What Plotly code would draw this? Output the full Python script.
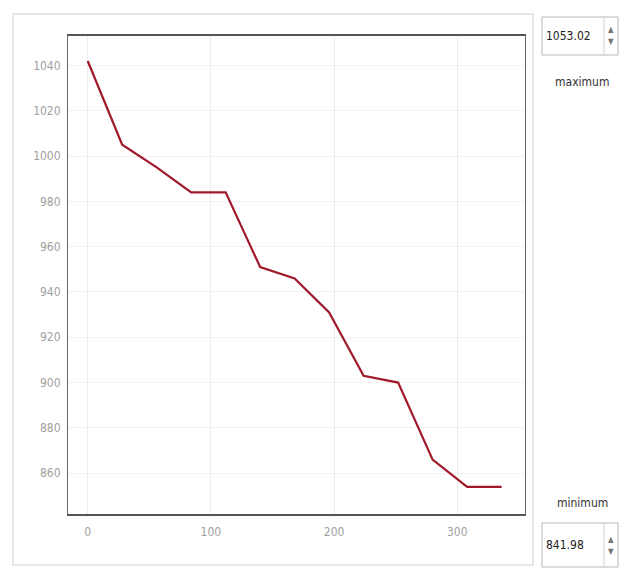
import plotly.graph_objects as go

# Data
x_vals = [0, 28, 56, 84, 112, 140, 168, 196, 224, 252, 280, 308, 336]
y_vals = [1042, 1005, 995, 984, 984, 951, 946, 931, 903, 900, 866, 854, 854]
y_ticks = [860, 880, 900, 920, 940, 960, 980, 1000, 1020, 1040]
x_ticks = [0, 100, 200, 300]
max_label = "1053.02"
min_label = "841.98"
y_min, y_max = 841.98, 1053.02

OFF = 8  # default page body margin
W, H = 629 - OFF, 574 - OFF
L, R, T, B = 68 - OFF, 525 - OFF, 36 - OFF, 514 - OFF

def px(x):
    return (x - OFF - L) / (R - L)

def py(y):
    return (B - (y - OFF)) / (B - T)

fig = go.Figure()
fig.add_trace(go.Scatter(x=x_vals, y=y_vals, mode="lines",
                         line=dict(color="#a01a2c", width=2.2),
                         hoverinfo="skip", showlegend=False))

shapes = []
# outer frame
shapes.append(dict(type="rect", xref="paper", yref="paper",
                   x0=px(13), x1=px(533), y0=py(565), y1=py(14),
                   line=dict(color="#e0e0e0", width=1.5), layer="below"))
# input boxes
for (y0, y1) in [(17, 55), (523, 567)]:
    shapes.append(dict(type="rect", xref="paper", yref="paper",
                       x0=px(542), x1=px(618), y0=py(y1), y1=py(y0),
                       line=dict(color="#b8b8b8", width=1), fillcolor="white"))
    shapes.append(dict(type="line", xref="paper", yref="paper",
                       x0=px(604), x1=px(604), y0=py(y1), y1=py(y0),
                       line=dict(color="#d0d0d0", width=1)))

annotations = []
for text, yy in [(max_label, 36), (min_label, 545)]:
    annotations.append(dict(text=text, xref="paper", yref="paper",
                            x=px(544), y=py(yy), xanchor="left", yanchor="middle",
                            showarrow=False,
                            font=dict(family="DejaVu Sans Condensed", size=12, color="#222")))
    annotations.append(dict(text="▲", xref="paper", yref="paper",
                            x=px(611), y=py(yy - 6), xanchor="center", yanchor="middle",
                            showarrow=False, font=dict(size=8, color="#777")))
    annotations.append(dict(text="▼", xref="paper", yref="paper",
                            x=px(611), y=py(yy + 6), xanchor="center", yanchor="middle",
                            showarrow=False, font=dict(size=8, color="#777")))
annotations.append(dict(text="maximum", xref="paper", yref="paper",
                        x=px(582), y=py(82), xanchor="center", yanchor="middle",
                        showarrow=False,
                        font=dict(family="DejaVu Sans Condensed", size=12, color="#333")))
annotations.append(dict(text="minimum", xref="paper", yref="paper",
                        x=px(582), y=py(503), xanchor="center", yanchor="middle",
                        showarrow=False,
                        font=dict(family="DejaVu Sans Condensed", size=12, color="#333")))

fig.update_layout(
    width=W, height=H,
    margin=dict(l=L, r=W - R, t=T, b=H - B),
    paper_bgcolor="white", plot_bgcolor="white",
    shapes=shapes, annotations=annotations,
    font=dict(family="DejaVu Sans Condensed", size=12, color="#a0a0a0"),
)
fig.update_xaxes(range=[-16, 355], tickvals=x_ticks, showgrid=True,
                 gridcolor="#ececec", showline=True, mirror=True,
                 linecolor="#555", linewidth=1.5, zeroline=False,
                 ticks="", ticklabelstandoff=6)
fig.update_yaxes(range=[y_min, y_max], tickvals=y_ticks, showgrid=True,
                 gridcolor="#f2f2f2", showline=True, mirror=True,
                 linecolor="#666", linewidth=1, zeroline=False,
                 ticks="", ticklabelstandoff=4)

fig.write_html("out.html")
